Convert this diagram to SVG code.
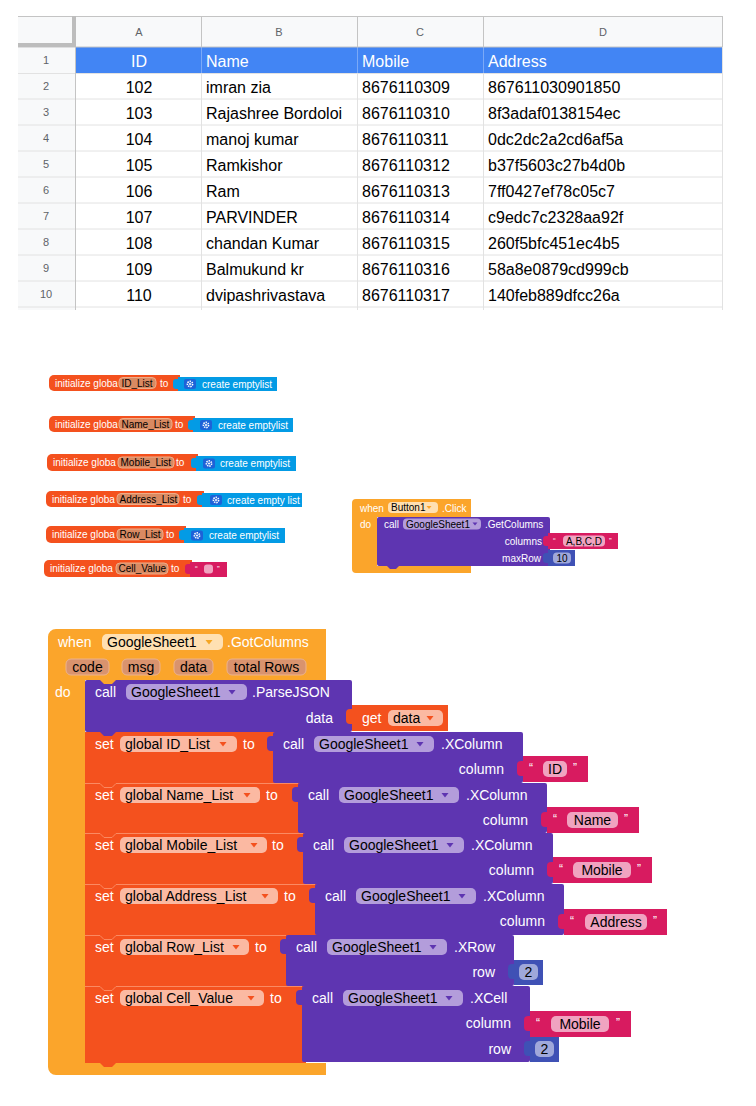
<svg xmlns="http://www.w3.org/2000/svg" xmlns:xlink="http://www.w3.org/1999/xlink" width="756" height="1106" viewBox="0 0 756 1106">
<style>
.sh{font-family:"Liberation Sans",Arial,sans-serif}
.t16{font-size:16px}
.hl{font-size:11px;fill:#5f6368;text-anchor:middle}
.t14{font-family:"Liberation Sans",Arial,sans-serif;font-size:14px}
.t10{font-family:"Liberation Sans",Arial,sans-serif;font-size:10px}
.q{font-family:"Liberation Sans",Arial,sans-serif;font-size:12px;fill:#fff}
.qs{font-family:"Liberation Sans",Arial,sans-serif;font-size:8px;fill:#fff}
.w{fill:#fff}
.k{fill:#000}
.m{text-anchor:middle}
.e{text-anchor:end}
.evt{fill:#fba52b}
.set{fill:#f4511e}
.pur{fill:#5e35b1}
.str{fill:#d81b60}
.num{fill:#3f51b5}
.lst{fill:#039be5}
.pp{fill:#b39ddb}
.sp{fill:#fbb9a2}
.ep{fill:#ffe0b2}
.prm{fill:#d9936e;stroke:#ecb28d;stroke-width:1}
.sip{fill:#f0a3c0}
.np{fill:#9fa8da}
.ip{fill:#d98a62;stroke:#eeac88;stroke-width:1}
.gear{fill:#1d62d8}
.grid{stroke:#e2e2e2;stroke-width:1}
.hb{stroke:#c4c4c4;stroke-width:1}
.sep{fill:none;stroke:#fb8a62;stroke-width:1}
</style>
<defs>
<path id="tab14" d="M0,0 h-2 q-4,0 -4,4 v7 q0,4 4,4 h2 z"/>
<path id="tab10" d="M0,0 h-2 q-3,0 -3,3 v4 q0,3 3,3 h2 z"/>
<path id="dd" d="M-3.5,0 h7 l-3.5,4.5 z"/>
<path id="dds" d="M-2.5,0 h5 l-2.5,3 z"/>
<g id="gearic"><rect x="0" y="0" width="12" height="10" rx="2" class="gear"/><circle cx="6" cy="5" r="2.6" fill="none" stroke="#fff" stroke-width="1.6" stroke-dasharray="1.4 0.9"/><circle cx="6" cy="5" r="1" fill="#fff"/></g>
</defs>
<rect width="756" height="1106" fill="#fff"/>

<!-- Spreadsheet -->
<g id="sheet" class="sh">
<rect x="18" y="16" width="704" height="31" fill="#f8f9fa"/>
<rect x="18" y="47" width="58" height="263" fill="#f8f9fa"/>
<rect x="76" y="47" width="646" height="26" fill="#4285f4"/>
<g class="grid">
<line x1="18" y1="99" x2="722" y2="99"/><line x1="18" y1="125" x2="722" y2="125"/>
<line x1="18" y1="151" x2="722" y2="151"/><line x1="18" y1="177" x2="722" y2="177"/>
<line x1="18" y1="203" x2="722" y2="203"/><line x1="18" y1="229" x2="722" y2="229"/>
<line x1="18" y1="255" x2="722" y2="255"/><line x1="18" y1="281" x2="722" y2="281"/>
<line x1="18" y1="307" x2="722" y2="307"/><line x1="18" y1="73.5" x2="76" y2="73.5"/>
<line x1="76" y1="73.5" x2="722" y2="73.5"/>
<line x1="201.5" y1="73" x2="201.5" y2="310"/><line x1="357.5" y1="73" x2="357.5" y2="310"/>
<line x1="483.5" y1="73" x2="483.5" y2="310"/><line x1="722.5" y1="47" x2="722.5" y2="310"/>
</g>
<g stroke="#ffffff" stroke-opacity="0.3">
<line x1="201.5" y1="47" x2="201.5" y2="73"/><line x1="357.5" y1="47" x2="357.5" y2="73"/><line x1="483.5" y1="47" x2="483.5" y2="73"/>
</g>
<g class="hb">
<line x1="18" y1="16.5" x2="722" y2="16.5"/>
<line x1="18" y1="47" x2="722" y2="47"/>
<line x1="201.5" y1="16" x2="201.5" y2="47"/><line x1="357.5" y1="16" x2="357.5" y2="47"/>
<line x1="483.5" y1="16" x2="483.5" y2="47"/><line x1="722.5" y1="16" x2="722.5" y2="47"/>
<line x1="75.5" y1="16" x2="75.5" y2="310"/>
</g>
<rect x="72" y="16" width="4" height="31" fill="#bdbdbd"/>
<rect x="18" y="43" width="58" height="4" fill="#bdbdbd"/>
<text class="hl" x="139" y="36">A</text>
<text class="hl" x="279" y="36">B</text>
<text class="hl" x="420" y="36">C</text>
<text class="hl" x="603" y="36">D</text>
<g class="hl">
<text x="46" y="64">1</text><text x="46" y="90">2</text><text x="46" y="116">3</text>
<text x="46" y="142">4</text><text x="46" y="168">5</text><text x="46" y="194">6</text>
<text x="46" y="220">7</text><text x="46" y="246">8</text><text x="46" y="272">9</text>
<text x="46" y="298">10</text>
</g>
<g class="t16" fill="#fff">
<text x="139" y="67" text-anchor="middle">ID</text>
<text x="206" y="67">Name</text>
<text x="362" y="67">Mobile</text>
<text x="488" y="67">Address</text>
</g>
<g class="t16" fill="#000">
<text x="139" y="93" text-anchor="middle">102</text><text x="206" y="93">imran zia</text><text x="362" y="93">8676110309</text><text x="488" y="93">867611030901850</text>
<text x="139" y="119" text-anchor="middle">103</text><text x="206" y="119">Rajashree Bordoloi</text><text x="362" y="119">8676110310</text><text x="488" y="119">8f3adaf0138154ec</text>
<text x="139" y="145" text-anchor="middle">104</text><text x="206" y="145">manoj kumar</text><text x="362" y="145">8676110311</text><text x="488" y="145">0dc2dc2a2cd6af5a</text>
<text x="139" y="171" text-anchor="middle">105</text><text x="206" y="171">Ramkishor</text><text x="362" y="171">8676110312</text><text x="488" y="171">b37f5603c27b4d0b</text>
<text x="139" y="197" text-anchor="middle">106</text><text x="206" y="197">Ram</text><text x="362" y="197">8676110313</text><text x="488" y="197">7ff0427ef78c05c7</text>
<text x="139" y="223" text-anchor="middle">107</text><text x="206" y="223">PARVINDER</text><text x="362" y="223">8676110314</text><text x="488" y="223">c9edc7c2328aa92f</text>
<text x="139" y="249" text-anchor="middle">108</text><text x="206" y="249">chandan Kumar</text><text x="362" y="249">8676110315</text><text x="488" y="249">260f5bfc451ec4b5</text>
<text x="139" y="275" text-anchor="middle">109</text><text x="206" y="275">Balmukund kr</text><text x="362" y="275">8676110316</text><text x="488" y="275">58a8e0879cd999cb</text>
<text x="139" y="301" text-anchor="middle">110</text><text x="206" y="301">dvipashrivastava</text><text x="362" y="301">8676110317</text><text x="488" y="301">140feb889dfcc26a</text>
</g>
</g>

<!-- Initialize blocks -->
<g id="init-id-list">
<path class="set" d="M54,375 H180 V391 H54 a5,5 0 0 1 -5,-5 V380 a5,5 0 0 1 5,-5 Z"/>
<text class="t10 w" x="55" y="386.5">initialize globa</text>
<rect class="ip" x="119" y="377.5" width="37" height="11" rx="4"/>
<text class="t10 k" x="121.5" y="386.5">ID_List</text>
<text class="t10 w" x="160" y="386.5">to</text>
<use href="#tab10" x="178" y="379" class="lst"/>
<rect class="lst" x="178" y="377" width="99" height="14"/>
<use href="#gearic" x="184" y="379"/>
<text class="t10 w" x="202" y="387.5">create emptylist</text>
</g>
<g id="init-name-list">
<path class="set" d="M54,416 H195 V432 H54 a5,5 0 0 1 -5,-5 V421 a5,5 0 0 1 5,-5 Z"/>
<text class="t10 w" x="55" y="427.5">initialize globa</text>
<rect class="ip" x="119" y="418.5" width="53" height="11" rx="4"/>
<text class="t10 k" x="121.5" y="427.5">Name_List</text>
<text class="t10 w" x="175" y="427.5">to</text>
<use href="#tab10" x="193" y="420" class="lst"/>
<rect class="lst" x="193" y="418" width="100" height="14"/>
<use href="#gearic" x="200" y="420"/>
<text class="t10 w" x="218" y="428.5">create emptylist</text>
</g>
<g id="init-mobile-list">
<path class="set" d="M52,454 H198 V471 H52 a5,5 0 0 1 -5,-5 V459 a5,5 0 0 1 5,-5 Z"/>
<text class="t10 w" x="53" y="466">initialize globa</text>
<rect class="ip" x="118" y="457" width="56" height="11" rx="4"/>
<text class="t10 k" x="120.5" y="466">Mobile_List</text>
<text class="t10 w" x="176" y="466">to</text>
<use href="#tab10" x="196" y="458" class="lst"/>
<rect class="lst" x="196" y="456" width="100" height="15"/>
<use href="#gearic" x="203" y="458.5"/>
<text class="t10 w" x="220" y="467">create emptylist</text>
</g>
<g id="init-address-list">
<path class="set" d="M51,491 H204 V507 H51 a5,5 0 0 1 -5,-5 V496 a5,5 0 0 1 5,-5 Z"/>
<text class="t10 w" x="52" y="502.5">initialize globa</text>
<rect class="ip" x="117" y="493.5" width="62" height="11" rx="4"/>
<text class="t10 k" x="119.5" y="502.5">Address_List</text>
<text class="t10 w" x="183" y="502.5">to</text>
<use href="#tab10" x="202" y="495" class="lst"/>
<rect class="lst" x="202" y="493" width="100" height="14"/>
<use href="#gearic" x="210" y="495"/>
<text class="t10 w" x="227" y="503.5">create empty list</text>
</g>
<g id="init-row-list">
<path class="set" d="M51,526 H186 V543 H51 a5,5 0 0 1 -5,-5 V531 a5,5 0 0 1 5,-5 Z"/>
<text class="t10 w" x="52" y="538">initialize globa</text>
<rect class="ip" x="117" y="529" width="46" height="11" rx="4"/>
<text class="t10 k" x="119.5" y="538">Row_List</text>
<text class="t10 w" x="166" y="538">to</text>
<use href="#tab10" x="184" y="530" class="lst"/>
<rect class="lst" x="184" y="528" width="101" height="15"/>
<use href="#gearic" x="191" y="530.5"/>
<text class="t10 w" x="209" y="539">create emptylist</text>
</g>
<g id="init-cell-value">
<path class="set" d="M49,560 H192 V577 H49 a5,5 0 0 1 -5,-5 V565 a5,5 0 0 1 5,-5 Z"/>
<text class="t10 w" x="50" y="572">initialize globa</text>
<rect class="ip" x="116" y="563" width="52" height="11" rx="4"/>
<text class="t10 k" x="118.5" y="572">Cell_Value</text>
<text class="t10 w" x="171" y="572">to</text>
<use href="#tab10" x="190" y="564" class="str"/>
<rect class="str" x="190" y="562" width="37" height="15"/>
<text class="qs" x="195" y="571">“</text>
<rect class="sip" x="204" y="564.5" width="9" height="9" rx="3"/>
<text class="qs" x="217" y="571">”</text>
</g>

<!-- Button1.Click -->
<g id="button1-click">
<path class="evt" d="M352,503 a4,4 0 0 1 4,-4 H471 V517 H377 V566 H471 V573 H356 a4,4 0 0 1 -4,-4 Z"/>
<text class="t10 w" x="360" y="512">when</text>
<rect class="ep" x="388" y="502" width="50" height="11" rx="4"/>
<text class="t10 k" x="391" y="511">Button1</text>
<use href="#dds" x="429" y="506" fill="#fba52b"/>
<text class="t10 w" x="442" y="512">.Click</text>
<text class="t10 w" x="360" y="528">do</text>
</g>
<g id="call-getcolumns">
<rect class="pur" x="377" y="517" width="173" height="49" rx="2"/>
<polygon points="387,566 390,569 396,569 399,566" class="pur"/>
<text class="t10 w" x="384" y="528">call</text>
<rect class="pp" x="403" y="518.5" width="78" height="11" rx="4"/>
<text class="t10 k" x="406" y="527.5">GoogleSheet1</text>
<use href="#dds" x="475" y="522.5" fill="#5e35b1"/>
<text class="t10 w" x="485" y="528">.GetColumns</text>
<text class="t10 w e" x="542" y="545">columns</text>
<text class="t10 w e" x="541" y="562">maxRow</text>
</g>
<g id="text-abcd">
<use href="#tab10" x="548" y="536" class="str"/>
<rect class="str" x="548" y="533" width="70" height="16"/>
<text class="qs" x="553" y="543">“</text>
<rect class="sip" x="563" y="535.5" width="42" height="11" rx="4"/>
<text class="t10 k m" x="584" y="544.5">A,B,C,D</text>
<text class="qs" x="609" y="543">”</text>
</g>
<g id="num-10">
<use href="#tab10" x="548" y="553" class="num"/>
<rect class="num" x="548" y="550" width="27" height="16"/>
<rect class="np" x="553" y="552.5" width="18" height="11" rx="4"/>
<text class="t10 k m" x="562" y="561.5">10</text>
</g>

<!-- GotColumns event -->
<g id="gotcolumns-event">
<path class="evt" d="M48,637 a8,8 0 0 1 8,-8 H326 V680 H85 V1063 H326 V1075 H56 a8,8 0 0 1 -8,-8 Z"/>
<text class="t14 w" x="58" y="647">when</text>
<rect class="ep" x="102" y="634" width="121" height="16" rx="5"/>
<text class="t14 k" x="107" y="647">GoogleSheet1</text>
<use href="#dd" x="209" y="640" fill="#f5a623"/>
<text class="t14 w" x="227" y="647">.GotColumns</text>
<rect class="prm" x="66" y="659" width="43" height="16" rx="5"/>
<text class="t14 k m" x="87.5" y="672">code</text>
<rect class="prm" x="122" y="659" width="38" height="16" rx="5"/>
<text class="t14 k m" x="141" y="672">msg</text>
<rect class="prm" x="174" y="659" width="39" height="16" rx="5"/>
<text class="t14 k m" x="193.5" y="672">data</text>
<rect class="prm" x="227" y="659" width="79" height="16" rx="5"/>
<text class="t14 k m" x="266.5" y="672">total Rows</text>
<text class="t14 w" x="55" y="697">do</text>
</g>

<g id="call-parsejson">
<rect class="pur" x="85" y="680" width="267" height="52" rx="2"/>
<polygon class="evt" points="100,680 104,684 112,684 116,680"/>
<text class="t14 w" x="95" y="697">call</text>
<rect class="pp" x="126" y="684" width="121" height="16" rx="5"/>
<text class="t14 k" x="131" y="697">GoogleSheet1</text>
<use href="#dd" x="232" y="690" fill="#5e35b1"/>
<text class="t14 w" x="252" y="697">.ParseJSON</text>
<text class="t14 w e" x="333" y="723">data</text>
</g>
<g id="get-data">
<use href="#tab14" x="352" y="709" class="set"/>
<rect class="set" x="352" y="705" width="96" height="26"/>
<text class="t14 w" x="362" y="723">get</text>
<rect class="sp" x="388" y="710" width="55" height="16" rx="5"/>
<text class="t14 k" x="393" y="723">data</text>
<use href="#dd" x="430" y="716" fill="#f4511e"/>
</g>

<!-- set ID_List -->
<g id="set-id-list">
<rect class="set" x="85" y="732" width="192" height="51"/>
<polygon class="pur" points="100,732 104,736 112,736 116,732"/>
<text class="t14 w" x="95" y="749">set</text>
<rect class="sp" x="120" y="736" width="117" height="16" rx="5"/>
<text class="t14 k" x="125" y="749">global ID_List</text>
<use href="#dd" x="223" y="742" fill="#f4511e"/>
<text class="t14 w" x="243" y="749">to</text>
</g>
<g id="call-xcolumn-id">
<use href="#tab14" x="273" y="736" class="pur"/>
<rect class="pur" x="273" y="732" width="250" height="51" rx="2"/>
<text class="t14 w" x="283" y="749">call</text>
<rect class="pp" x="314" y="736" width="120" height="16" rx="5"/>
<text class="t14 k" x="319" y="749">GoogleSheet1</text>
<use href="#dd" x="420" y="742" fill="#5e35b1"/>
<text class="t14 w" x="441" y="749">.XColumn</text>
<text class="t14 w e" x="504" y="774">column</text>
</g>
<g id="text-id">
<use href="#tab14" x="523" y="761" class="str"/>
<rect class="str" x="523" y="756" width="65" height="26"/>
<text class="q" x="529" y="772">“</text>
<rect class="sip" x="543" y="761" width="24" height="16" rx="5"/>
<text class="t14 k m" x="555" y="774">ID</text>
<text class="q" x="573" y="772">”</text>
</g>

<!-- set Name_List -->
<g id="set-name-list">
<rect class="set" x="85" y="783" width="217" height="50"/>
<path class="sep" d="M85,783.5 H100 l4,4 h8 l4,-4 H298"/>
<text class="t14 w" x="95" y="800">set</text>
<rect class="sp" x="120" y="787" width="140" height="16" rx="5"/>
<text class="t14 k" x="125" y="800">global Name_List</text>
<use href="#dd" x="247" y="793" fill="#f4511e"/>
<text class="t14 w" x="266" y="800">to</text>
</g>
<g id="call-xcolumn-name">
<use href="#tab14" x="298" y="787" class="pur"/>
<rect class="pur" x="298" y="783" width="249" height="50" rx="2"/>
<text class="t14 w" x="308" y="800">call</text>
<rect class="pp" x="339" y="787" width="120" height="16" rx="5"/>
<text class="t14 k" x="344" y="800">GoogleSheet1</text>
<use href="#dd" x="445" y="793" fill="#5e35b1"/>
<text class="t14 w" x="466" y="800">.XColumn</text>
<text class="t14 w e" x="528" y="825">column</text>
</g>
<g id="text-name">
<use href="#tab14" x="547" y="812" class="str"/>
<rect class="str" x="547" y="807" width="92" height="26"/>
<text class="q" x="553" y="823">“</text>
<rect class="sip" x="567" y="812" width="51" height="16" rx="5"/>
<text class="t14 k m" x="592.5" y="825">Name</text>
<text class="q" x="624" y="823">”</text>
</g>

<!-- set Mobile_List -->
<g id="set-mobile-list">
<rect class="set" x="85" y="833" width="222" height="51"/>
<path class="sep" d="M85,833.5 H100 l4,4 h8 l4,-4 H303"/>
<text class="t14 w" x="95" y="850">set</text>
<rect class="sp" x="120" y="837" width="147" height="16" rx="5"/>
<text class="t14 k" x="125" y="850">global Mobile_List</text>
<use href="#dd" x="254" y="843" fill="#f4511e"/>
<text class="t14 w" x="272" y="850">to</text>
</g>
<g id="call-xcolumn-mobile">
<use href="#tab14" x="303" y="837" class="pur"/>
<rect class="pur" x="303" y="833" width="250" height="51" rx="2"/>
<text class="t14 w" x="313" y="850">call</text>
<rect class="pp" x="344" y="837" width="120" height="16" rx="5"/>
<text class="t14 k" x="349" y="850">GoogleSheet1</text>
<use href="#dd" x="450" y="843" fill="#5e35b1"/>
<text class="t14 w" x="471" y="850">.XColumn</text>
<text class="t14 w e" x="534" y="875">column</text>
</g>
<g id="text-mobile">
<use href="#tab14" x="553" y="862" class="str"/>
<rect class="str" x="553" y="857" width="99" height="26"/>
<text class="q" x="559" y="873">“</text>
<rect class="sip" x="573" y="862" width="58" height="16" rx="5"/>
<text class="t14 k m" x="602" y="875">Mobile</text>
<text class="q" x="637" y="873">”</text>
</g>

<!-- set Address_List -->
<g id="set-address-list">
<rect class="set" x="85" y="884" width="234" height="51"/>
<path class="sep" d="M85,884.5 H100 l4,4 h8 l4,-4 H315"/>
<text class="t14 w" x="95" y="901">set</text>
<rect class="sp" x="120" y="888" width="158" height="16" rx="5"/>
<text class="t14 k" x="125" y="901">global Address_List</text>
<use href="#dd" x="265" y="894" fill="#f4511e"/>
<text class="t14 w" x="284" y="901">to</text>
</g>
<g id="call-xcolumn-address">
<use href="#tab14" x="315" y="888" class="pur"/>
<rect class="pur" x="315" y="884" width="249" height="51" rx="2"/>
<text class="t14 w" x="325" y="901">call</text>
<rect class="pp" x="356" y="888" width="120" height="16" rx="5"/>
<text class="t14 k" x="361" y="901">GoogleSheet1</text>
<use href="#dd" x="462" y="894" fill="#5e35b1"/>
<text class="t14 w" x="483" y="901">.XColumn</text>
<text class="t14 w e" x="545" y="926">column</text>
</g>
<g id="text-address">
<use href="#tab14" x="564" y="914" class="str"/>
<rect class="str" x="564" y="909" width="103" height="26"/>
<text class="q" x="570" y="925">“</text>
<rect class="sip" x="585" y="914" width="62" height="16" rx="5"/>
<text class="t14 k m" x="616" y="927">Address</text>
<text class="q" x="653" y="925">”</text>
</g>

<!-- set Row_List -->
<g id="set-row-list">
<rect class="set" x="85" y="935" width="205" height="51"/>
<path class="sep" d="M85,935.5 H100 l4,4 h8 l4,-4 H286"/>
<text class="t14 w" x="95" y="952">set</text>
<rect class="sp" x="120" y="939" width="129" height="16" rx="5"/>
<text class="t14 k" x="125" y="952">global Row_List</text>
<use href="#dd" x="236" y="945" fill="#f4511e"/>
<text class="t14 w" x="255" y="952">to</text>
</g>
<g id="call-xrow">
<use href="#tab14" x="286" y="939" class="pur"/>
<rect class="pur" x="286" y="935" width="228" height="51" rx="2"/>
<text class="t14 w" x="296" y="952">call</text>
<rect class="pp" x="327" y="939" width="120" height="16" rx="5"/>
<text class="t14 k" x="332" y="952">GoogleSheet1</text>
<use href="#dd" x="433" y="945" fill="#5e35b1"/>
<text class="t14 w" x="454" y="952">.XRow</text>
<text class="t14 w e" x="495" y="977">row</text>
</g>
<g id="num-2-row">
<use href="#tab14" x="514" y="964" class="num"/>
<rect class="num" x="514" y="960" width="29" height="25"/>
<rect class="np" x="519" y="964" width="19" height="16" rx="5"/>
<text class="t14 k m" x="528.5" y="977">2</text>
</g>

<!-- set Cell_Value -->
<g id="set-cell-value">
<rect class="set" x="85" y="986" width="221" height="77"/>
<path class="sep" d="M85,986.5 H100 l4,4 h8 l4,-4 H302"/>
<polygon class="set" points="100,1063 104,1067 112,1067 116,1063"/>
<text class="t14 w" x="95" y="1003">set</text>
<rect class="sp" x="120" y="990" width="144" height="16" rx="5"/>
<text class="t14 k" x="125" y="1003">global Cell_Value</text>
<use href="#dd" x="251" y="996" fill="#f4511e"/>
<text class="t14 w" x="270" y="1003">to</text>
</g>
<g id="call-xcell">
<use href="#tab14" x="302" y="990" class="pur"/>
<rect class="pur" x="302" y="986" width="228" height="76" rx="2"/>
<text class="t14 w" x="312" y="1003">call</text>
<rect class="pp" x="343" y="990" width="120" height="16" rx="5"/>
<text class="t14 k" x="348" y="1003">GoogleSheet1</text>
<use href="#dd" x="449" y="996" fill="#5e35b1"/>
<text class="t14 w" x="470" y="1003">.XCell</text>
<text class="t14 w e" x="511" y="1028">column</text>
<text class="t14 w e" x="511" y="1054">row</text>
</g>
<g id="text-mobile-cell">
<use href="#tab14" x="530" y="1016" class="str"/>
<rect class="str" x="530" y="1011" width="101" height="26"/>
<text class="q" x="536" y="1027">“</text>
<rect class="sip" x="551" y="1016" width="58" height="16" rx="5"/>
<text class="t14 k m" x="580" y="1029">Mobile</text>
<text class="q" x="616" y="1027">”</text>
</g>
<g id="num-2-cell">
<use href="#tab14" x="530" y="1041" class="num"/>
<rect class="num" x="530" y="1037" width="29" height="25"/>
<rect class="np" x="535" y="1041" width="19" height="16" rx="5"/>
<text class="t14 k m" x="544.5" y="1054">2</text>
</g>
<g id="connectors"></g>
</svg>
